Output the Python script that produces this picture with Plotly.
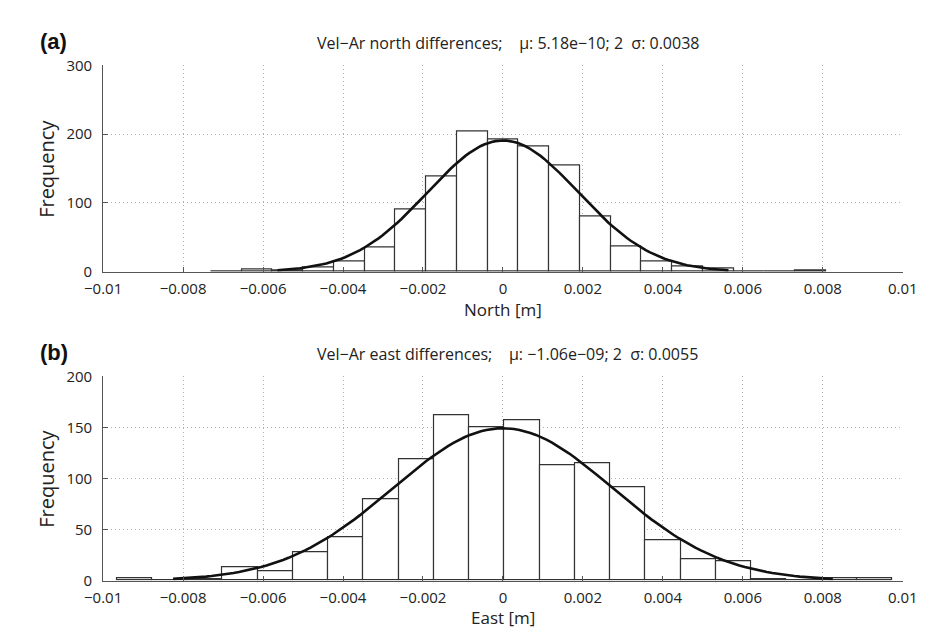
import numpy as np
import plotly.graph_objects as go

# ---------------- data ----------------
north_bin_lo, north_bin_hi = -0.00730, 0.00808
north_counts = [1, 3, 2, 6, 15, 35, 90, 138, 204, 193, 182, 154, 80, 37, 15, 8, 4, 0, 1, 2]
north_mu, north_sigma = 5.18e-10, 0.00188

east_bin_lo, east_bin_hi = -0.00966, 0.00974
east_counts = [2, 0, 1, 13, 9, 28, 42, 80, 119, 162, 150, 157, 113, 115, 91, 39, 21, 19, 1, 0, 2, 2]
east_mu, east_sigma = -1.06e-09, 0.00275

x_ticks = [-0.01, -0.008, -0.006, -0.004, -0.002, 0, 0.002, 0.004, 0.006, 0.008, 0.01]
x_ticktext = ["\u22120.01", "\u22120.008", "\u22120.006", "\u22120.004", "\u22120.002", "0",
              "0.002", "0.004", "0.006", "0.008", "0.01"]
north_yticks = [0, 100, 200, 300]
east_yticks = [0, 50, 100, 150, 200]

titles = ["Vel\u2212Ar north differences;\u00a0\u00a0\u00a0\u00a0\u03bc: 5.18e\u221210; 2\u00a0\u00a0\u03c3: 0.0038",
          "Vel\u2212Ar east differences;\u00a0\u00a0\u00a0\u00a0\u03bc: \u22121.06e\u221209; 2\u00a0\u00a0\u03c3: 0.0055"]
xlabels = ["North [m]", "East [m]"]
panel_labels = ["(a)", "(b)"]

# ---------------- figure ----------------
W, H = 930, 630
FONT = "Open Sans"
fig = go.Figure()


def add_hist(counts, lo, hi, mu, sigma, xa, ya):
    n = len(counts)
    edges = np.linspace(lo, hi, n + 1)
    centers = (edges[:-1] + edges[1:]) / 2
    w = edges[1] - edges[0]
    fig.add_trace(go.Bar(x=centers, y=counts, width=w, xaxis=xa, yaxis=ya,
                         marker=dict(color="white", line=dict(color="#333333", width=1.2)),
                         showlegend=False, hoverinfo="x+y"))
    total = float(np.sum(counts))
    xs = mu + sigma * np.linspace(-3, 3, 121)
    ys = total * w / (sigma * np.sqrt(2 * np.pi)) * np.exp(-0.5 * ((xs - mu) / sigma) ** 2)
    fig.add_trace(go.Scatter(x=xs, y=ys, mode="lines", xaxis=xa, yaxis=ya,
                             line=dict(color="#111111", width=2.6), showlegend=False))


add_hist(north_counts, north_bin_lo, north_bin_hi, north_mu, north_sigma, "x", "y")
add_hist(east_counts, east_bin_lo, east_bin_hi, east_mu, east_sigma, "x2", "y2")

xdom = [79 / W, 909 / W]
top_dom = [1 - 261 / H, 1 - 48 / H]
bot_dom = [1 - 580 / H, 1 - 369 / H]

axis_common = dict(showline=True, linecolor="#555555", linewidth=1, ticks="inside", ticklen=5,
                   tickcolor="#555555", showgrid=True, gridcolor="#b0b0b0", griddash="1px,3px",
                   gridwidth=1, zeroline=False, tickfont=dict(family=FONT, size=15, color="#222222"),
                   mirror=False)

fig.update_layout(
    width=W, height=H, margin=dict(l=0, r=0, t=0, b=0),
    paper_bgcolor="white", plot_bgcolor="white", bargap=0,
    xaxis=dict(domain=xdom, range=[-0.01, 0.01], tickvals=x_ticks, ticktext=x_ticktext,
               anchor="y", ticklabelstandoff=3, **axis_common),
    yaxis=dict(domain=top_dom, range=[0, 300], tickvals=north_yticks, anchor="x",
               ticklabelstandoff=7, **axis_common),
    xaxis2=dict(domain=xdom, range=[-0.01, 0.01], tickvals=x_ticks, ticktext=x_ticktext,
                anchor="y2", ticklabelstandoff=3, **axis_common),
    yaxis2=dict(domain=bot_dom, range=[0, 200], tickvals=east_yticks, anchor="x2",
                ticklabelstandoff=7, **axis_common),
)

ann = []
for i, (top_px, bot_px, lab_off) in enumerate([(48, 261, 39), (369, 580, 38)]):
    ann.append(dict(text="<b>" + panel_labels[i] + "</b>", x=11 / W, y=1 - (top_px - 25) / H,
                    xref="paper", yref="paper", xanchor="left", yanchor="middle", showarrow=False,
                    font=dict(family="Liberation Sans", size=22, color="#111111")))
    ann.append(dict(text=titles[i], x=299 / W, y=1 - (top_px - 23) / H, xref="paper", yref="paper",
                    xanchor="left", yanchor="middle", showarrow=False,
                    font=dict(family=FONT, size=16, color="#222222")))
    ann.append(dict(text=xlabels[i], x=494 / W, y=1 - (bot_px + lab_off) / H, xref="paper",
                    yref="paper", xanchor="center", yanchor="middle", showarrow=False, borderpad=0,
                    font=dict(family=FONT, size=17, color="#222222")))
    ann.append(dict(text="Frequency", x=20 / W, y=1 - ((top_px + bot_px) / 2) / H, xref="paper",
                    yref="paper", xanchor="center", yanchor="middle", showarrow=False, textangle=-90,
                    font=dict(family=FONT, size=20, color="#222222")))
fig.update_layout(annotations=ann)

fig.write_html("out.html")
